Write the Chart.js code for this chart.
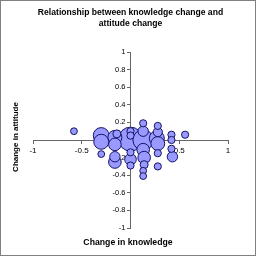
<!DOCTYPE html>
<html>
<head>
<meta charset="utf-8">
<script src="https://cdn.jsdelivr.net/npm/chart.js@4/dist/chart.umd.min.js"></script>
<style>
  html, body { margin: 0; padding: 0; background: #fff; }
  #wrap { width: 257px; height: 257px; position: relative; }
</style>
</head>
<body>
<div id="wrap"><canvas id="bubbleChart" width="257" height="257"></canvas></div>
<script>
// data: knowledge change (x), attitude change (y), bubble radius (r)
const knowledgeChange = [-0.58, -0.30, -0.30, -0.30, -0.16, -0.14, -0.16, -0.16, -0.16,
  0, 0, 0, 0, 0, 0,
  0.13, 0.13, 0.13, 0.13, 0.14, 0.14, 0.13, 0.13,
  0.28, 0.28, 0.27, 0.28, 0.28, 0.28,
  0.42, 0.42, 0.42, 0.43, 0.56];
const attitudeChange = [0.10, 0.05, -0.02, -0.16, 0.03, 0.07, -0.05, -0.19, -0.25,
  0.01, 0.10, 0.05, -0.14, -0.22, -0.29,
  0.19, 0.10, 0.00, -0.11, -0.20, -0.28, -0.35, -0.41,
  0.16, 0.09, 0.02, -0.04, -0.15, -0.30,
  0.06, 0.00, -0.10, -0.19, 0.06];
const bubbleSize = [3.4, 8, 7.5, 3.4, 7, 4, 6.3, 5.2, 6.3,
  12, 3.6, 3.6, 3.6, 5.8, 3.6,
  3.6, 5.2, 10.3, 6.3, 6.3, 4, 3.4, 3.4,
  3.6, 4.6, 7.5, 6.9, 3.6, 3.6,
  3.6, 3.6, 3.6, 5.2, 3.6];
const xTicks = [-1, -0.5, 0, 0.5, 1];
const yTicks = [-1, -0.8, -0.6, -0.4, -0.2, 0, 0.2, 0.4, 0.6, 0.8, 1];

// Excel draws the big bubbles first, so the small ones stay visible on top
const points = knowledgeChange.map((x, i) => ({ x: x, y: attitudeChange[i], r: bubbleSize[i] }))
  .sort((a, b) => b.r - a.r);

const axisTitles = {
  id: 'axisTitles',
  afterDraw(chart) {
    const ctx = chart.ctx;
    ctx.save();
    ctx.fillStyle = '#000';
    ctx.textAlign = 'center';
    ctx.textBaseline = 'middle';
    ctx.font = 'bold 8.7px "Liberation Sans", Arial, sans-serif';
    ctx.fillText('Change in knowledge', 128, 243);
    ctx.font = 'bold 8px "Liberation Sans", Arial, sans-serif';
    ctx.translate(16, 137);
    ctx.rotate(-Math.PI / 2);
    ctx.fillText('Change in attitude', 0, 0);
    ctx.restore();
    // frame round the picture
    ctx.save();
    ctx.strokeStyle = '#808080';
    ctx.lineWidth = 1;
    ctx.strokeRect(0.5, 0.5, 255, 255);
    ctx.restore();
  }
};

const ctx = document.getElementById('bubbleChart').getContext('2d');
const bubbleChart = new Chart(ctx, {
  type: 'bubble',
  data: {
    datasets: [{
      data: points,
      backgroundColor: '#9999FF',
      borderColor: '#141466',
      borderWidth: 1
    }]
  },
  options: {
    responsive: false,
    animation: false,
    events: [],
    layout: { padding: { left: 33, right: 29, top: 0, bottom: 29 } },
    plugins: {
      legend: { display: false },
      tooltip: { enabled: false },
      title: {
        display: true,
        text: ['Relationship between knowledge change and', 'attitude change'],
        color: '#000',
        font: { family: '"Liberation Sans", Arial, sans-serif', size: 8.6, weight: 'bold', lineHeight: 1.28 },
        padding: { top: 7, bottom: 23 }
      }
    },
    scales: {
      x: {
        type: 'linear',
        position: 'center',
        min: -1,
        max: 1,
        afterBuildTicks: scale => { scale.ticks = xTicks.map(v => ({ value: v })); },
        ticks: {
          color: '#000',
          padding: 3,
          font: { family: '"Liberation Sans", Arial, sans-serif', size: 8 },
          maxRotation: 0,
          callback: v => (v === 0 ? '' : String(v))
        },
        grid: { drawOnChartArea: false, drawTicks: true, tickLength: 3, color: '#666' },
        border: { display: true, color: '#666' }
      },
      y: {
        type: 'linear',
        position: 'center',
        min: -1,
        max: 1,
        afterBuildTicks: scale => { scale.ticks = yTicks.map(v => ({ value: v })); },
        ticks: {
          color: '#000',
          padding: 2,
          font: { family: '"Liberation Sans", Arial, sans-serif', size: 7.5 },
          callback: v => String(v)
        },
        grid: { drawOnChartArea: false, drawTicks: true, tickLength: 3, color: '#666' },
        border: { display: true, color: '#666' }
      }
    }
  },
  plugins: [axisTitles]
});
</script>
</body>
</html>
